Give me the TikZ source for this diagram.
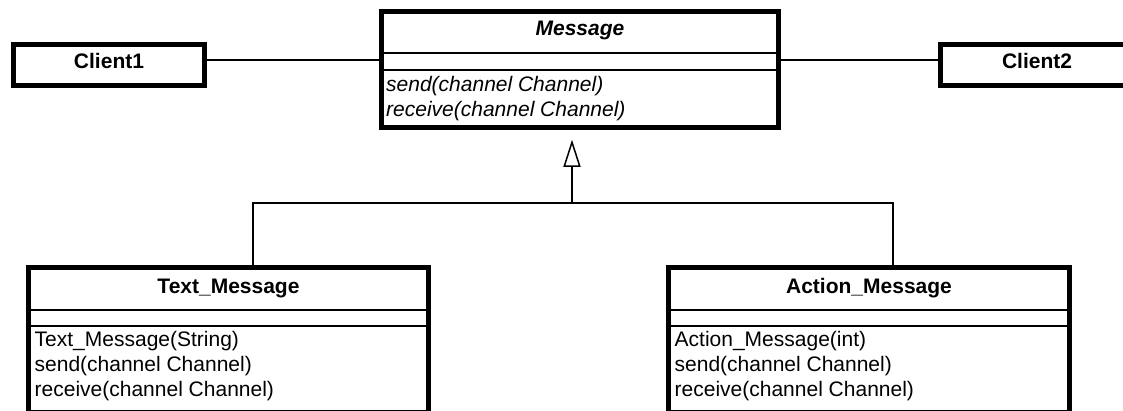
\documentclass[tikz,border=0pt]{standalone}
\usepackage{fontspec}
\setmainfont{Liberation Sans}
\usetikzlibrary{arrows.meta}

\tikzset{
  umlbox/.style={draw, line width=4.5pt, fill=white, inner sep=0pt},
  sepline/.style={line width=1.6pt},
  link/.style={line width=1.5pt},
  title/.style={anchor=base, inner sep=0pt, font=\fontsize{21}{25}\selectfont\bfseries},
  member/.style={anchor=base west, inner sep=0pt, font=\fontsize{21}{25}\selectfont},
  genarrow/.style={line width=1.5pt, -{Triangle[open, length=27pt, width=17pt]}},
}

\begin{document}
\begin{tikzpicture}[x=1pt, y=-1pt]
\useasboundingbox (0,0) rectangle (1123,410);

% class boxes
\node[umlbox, minimum width=191pt, minimum height=41pt] (c1) at (109,65) {};
\node[umlbox, minimum width=193pt, minimum height=41pt] (c2) at (1037,65) {};
\node[umlbox, minimum width=397pt, minimum height=116pt] (msg) at (580,69.5) {};
\node[umlbox, minimum width=400pt, minimum height=144.5pt] (tm) at (228.5,339.75) {};
\node[umlbox, minimum width=401pt, minimum height=144.5pt] (am) at (869,339.75) {};

% compartment separators
\foreach \b/\ya/\yb in {msg/53/70, tm/310/326, am/310/326} {
  \draw[sepline] (\b.west |- 0,\ya) -- (\b.east |- 0,\ya);
  \draw[sepline] (\b.west |- 0,\yb) -- (\b.east |- 0,\yb);
}

% names
\node[title] (c1name) at (109,68) {Client1};
\node[title] (c2name) at (1037,68) {Client2};
\node[title, font=\fontsize{21}{25}\selectfont\bfseries\itshape] (msgname) at (580,35) {Message};
\node[title] (tmname) at (228.5,293) {Text\_Message};
\node[title] (amname) at (869,293) {Action\_Message};

% operations
\node[member, font=\fontsize{21}{25}\selectfont\itshape] (msgop1) at (386,91) {send(channel Channel)};
\node[member, font=\fontsize{21}{25}\selectfont\itshape] (msgop2) at (386,116) {receive(channel Channel)};

\node[member] (tmop1) at (34.5,346) {Text\_Message(String)};
\node[member] (tmop2) at (34.5,371) {send(channel Channel)};
\node[member] (tmop3) at (34.5,396) {receive(channel Channel)};

\node[member] (amop1) at (674.5,346) {Action\_Message(int)};
\node[member] (amop2) at (674.5,371) {send(channel Channel)};
\node[member] (amop3) at (674.5,396) {receive(channel Channel)};

% associations with the clients
\coordinate (la) at ([yshift=5pt]c1.east);
\coordinate (lb) at ([yshift=5pt]c2.west);
\draw[link] (la) -- (la -| msg.west);
\draw[link] (lb) -- (lb -| msg.east);

% generalisation tree
\coordinate (hub) at (572,203);
\coordinate (jl) at (253,203);
\coordinate (jr) at (893,203);
\draw[link] (jl |- tm.north) -- (jl) -- (jr) -- (jr |- am.north);
\draw[genarrow, shorten >=10pt] (hub) -- (hub |- msg.south);
\end{tikzpicture}
\end{document}
